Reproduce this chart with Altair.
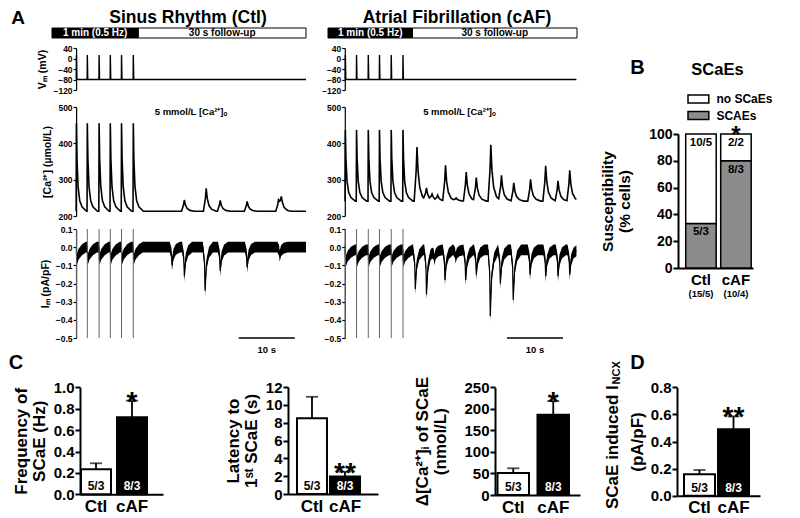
import altair as alt
import numpy as np
import pandas as pd

FONT = "Liberation Sans"
W, H = 784, 510

# ---------------- Panel A data (times in s) ----------------
STIM_T_CTL = [0.05, 2.0, 4.1, 6.1, 8.1, 10.2]
STIM_T_CAF = [0.1, 2.1, 4.2, 6.2, 8.3, 10.4]
T_END_CTL = 41.0
T_END_CAF = 41.4
HEADER_LABELS = ["1 min (0.5 Hz)", "30 s follow-up"]
HEADER_EDGES_CTL = [-4.3, 11.1, 41.0]
HEADER_EDGES_CAF = [-3.0, 12.1, 41.5]

VM_REST = -80.0
VM_PEAK = 13.0

CA_BASE_CTL = 213.0
CA_BASE_CAF = 241.0
CA_STIM_PEAK_CTL = 455.0
CA_STIM_PEAK_CAF = 437.0
CA_SCAE_T_CTL = [19.3, 23.2, 25.7, 30.5, 36.1, 36.6]
CA_SCAE_PEAK_CTL = [244, 276, 243, 240, 245, 246]
CA_SCAE_T_CAF = [12.9, 14.6, 15.6, 16.6, 18.0, 19.9, 21.7, 23.5, 26.1, 28.0, 30.2, 33.2, 35.9, 38.1, 40.2]
CA_SCAE_PEAK_CAF = [390, 276, 258, 256, 339, 250, 321, 306, 396, 312, 291, 301, 338, 297, 326]
CA_NOTE = "5 mmol/L [Ca²⁺]ₒ"
CA_NOTE_AT = [20.5, 486]

IM_BASE_CTL = 0.0
IM_BASE_CAF = -0.015
IM_NOISE = 0.03
IM_STIM_LOW_CTL = -0.10
IM_STIM_LOW_CAF = -0.11
IM_SCAE_T_CTL = [17.1, 19.3, 23.0, 25.7, 30.5, 36.3]
IM_SCAE_LOW_CTL = [-0.13, -0.19, -0.27, -0.16, -0.14, -0.08]
IM_SCAE_T_CAF = [12.6, 14.6, 16.0, 17.9, 19.8, 21.6, 23.5, 26.0, 27.8, 30.1, 33.1, 35.9, 38.1, 40.2]
IM_SCAE_LOW_CAF = [-0.26, -0.29, -0.10, -0.21, -0.09, -0.21, -0.18, -0.41, -0.23, -0.32, -0.18, -0.19, -0.19, -0.18]
IM_TRANSIENT = [0.1, -0.5]
SCALEBAR_T = [29.0, 39.0]
SCALEBAR_LABEL = "10 s"

# waveform shapes: (time offset in s, fraction of peak)
VM_AP_DT = [-0.03, 0.0, 0.08]
VM_AP_F = [0.0, 1.0, 0.0]
CA_STIM_DT = [-0.05, 0.0, 0.1, 0.3, 0.6, 1.0, 1.8]
CA_STIM_F = [0.0, 1.0, 0.6, 0.28, 0.12, 0.05, 0.0]
CA_SCAE_DT = [-0.5, -0.15, 0.0, 0.2, 0.5, 1.0, 1.8]
CA_SCAE_F = [0.0, 0.55, 1.0, 0.55, 0.25, 0.08, 0.0]
IM_STIM_DT = [0.0, 0.05, 0.4, 1.0, 1.7]
IM_STIM_F = [0.0, 1.0, 0.55, 0.2, 0.0]
IM_SCAE_DT = [-0.4, -0.1, 0.0, 0.25, 0.7, 1.4]
IM_SCAE_F = [0.0, 0.35, 1.0, 0.4, 0.12, 0.0]

# ---------------- Panel B data ----------------
B_CATS = ["Ctl", "cAF"]
B_GROUPS = ["no SCaEs", "SCAEs"]
B_SCAE_PCT = [33.3, 80.0]
B_NO_PCT = [66.7, 20.0]
B_SCAE_N = ["5/3", "8/3"]
B_NO_N = ["10/5", "2/2"]
B_TOTAL_N = ["(15/5)", "(10/4)"]
B_SIG = ["", "*"]
B_GRAY = "#8c8c8c"

# ---------------- Panels C / D data ----------------
BAR_N = ["5/3", "8/3"]
FREQ_MEAN = [0.235, 0.72]
FREQ_SEM = [0.055, 0.155]
LAT_MEAN = [8.5, 1.95]
LAT_SEM = [2.4, 0.55]
DCA_MEAN = [51.0, 186.0]
DCA_SEM = [11.0, 32.0]
INCX_MEAN = [0.158, 0.49]
INCX_SEM = [0.032, 0.095]
SIG_C1 = ["", "*"]
SIG_C2 = ["", "**"]
SIG_C3 = ["", "*"]
SIG_D = ["", "**"]

# ---------------- layout (pixel ranges inside the plot area) ----------------
Y_HEADER = [30, 20]
Y_VM = [82, 40]
Y_CA = [208, 99]
Y_IM = [330, 221]
TOP_TEXT_Y = 0.5


def trace(t_end, base, comps):
    pts = {0.0, float(t_end)}
    for times, amps, dt, f in comps:
        for te in times:
            for d in dt:
                tt = round(te + d, 4)
                if 0.0 <= tt <= t_end:
                    pts.add(tt)
    t = np.array(sorted(pts))
    v = np.full(t.shape, float(base))
    for times, amps, dt, f in comps:
        for te, a in zip(times, amps):
            v = v + a * np.interp(t - te, dt, f, left=0.0, right=0.0)
    return pd.DataFrame({"t": t, "v": v})


def lin(domain, rng, zero=False):
    return alt.Scale(domain=domain, range=rng, nice=False, zero=zero)


def a_axis(values, off, title, fmt=None):
    kw = dict(orient="left", offset=off, values=values, tickSize=3, tickWidth=1.2,
              domainWidth=1.2, labelFontSize=8.5, labelPadding=1, titleFontSize=10.5,
              titlePadding=5, title=title)
    if fmt:
        kw["format"] = fmt
    return alt.Axis(**kw)


def txt(s, x, y, size, **kw):
    return alt.Chart(pd.DataFrame({"s": [s]})).mark_text(
        font=FONT, fontWeight="bold", fontSize=size, color="black", **kw
    ).encode(text="s:N", x=alt.value(x), y=alt.value(y))


def panel_a(stim_t, t_end, edges, ca_base, ca_stim_peak, ca_t, ca_peak,
            im_base, im_stim_low, im_t, im_low, xdom, xrng, axis_off, title, title_x, titles):
    xs = lin(xdom, xrng)
    hs = lin([0, 1], Y_HEADER)
    vs = lin([-120, 40], Y_VM)
    cs = lin([200, 500], Y_CA)
    ims = lin([-0.5, 0.1], Y_IM)
    X = lambda f: alt.X(f, scale=xs, axis=None)
    n = len(stim_t)
    out = []

    hdr = pd.DataFrame({"start": edges[:-1], "end": edges[1:], "label": HEADER_LABELS})
    hdr["mid"] = (hdr["start"] + hdr["end"]) / 2
    dark = alt.datum.label == HEADER_LABELS[0]
    out.append(alt.Chart(hdr).mark_rect(stroke="black", strokeWidth=1).encode(
        x=X("start:Q"), x2="end:Q",
        y=alt.YDatum(0, scale=hs, axis=None), y2=alt.Y2Datum(1),
        fill=alt.condition(dark, alt.value("black"), alt.value("white"))))
    out.append(alt.Chart(hdr).mark_text(font=FONT, fontWeight="bold", fontSize=10, baseline="middle").encode(
        x=X("mid:Q"), y=alt.YDatum(0.5, scale=hs, axis=None), text="label:N",
        color=alt.condition(dark, alt.value("white"), alt.value("black"))))
    out.append(txt(title, title_x, TOP_TEXT_Y, 17.5, align="center", baseline="top"))

    vm = trace(t_end, VM_REST, [(stim_t, [VM_PEAK - VM_REST] * n, VM_AP_DT, VM_AP_F)])
    out.append(alt.Chart(vm).mark_line(color="black", strokeWidth=1.4).encode(
        x=X("t:Q"),
        y=alt.Y("v:Q", scale=vs, axis=a_axis([40, 0, -40, -80, -120], axis_off, "Vₘ (mV)" if titles else None))))

    ca = trace(t_end, ca_base, [
        (stim_t, [ca_stim_peak - ca_base] * n, CA_STIM_DT, CA_STIM_F),
        (ca_t, [p - ca_base for p in ca_peak], CA_SCAE_DT, CA_SCAE_F)])
    out.append(alt.Chart(ca).mark_line(color="black", strokeWidth=1.6).encode(
        x=X("t:Q"),
        y=alt.Y("v:Q", scale=cs, axis=a_axis([200, 300, 400, 500], axis_off, "[Ca²⁺] (µmol/L)" if titles else None))))
    note = pd.DataFrame({"t": [CA_NOTE_AT[0]], "v": [CA_NOTE_AT[1]], "s": [CA_NOTE]})
    out.append(alt.Chart(note).mark_text(font=FONT, fontWeight="bold", fontSize=9.5).encode(
        x=X("t:Q"), y=alt.Y("v:Q", scale=cs, axis=None), text="s:N"))

    im = trace(t_end, im_base, [
        (stim_t, [im_stim_low + IM_NOISE - im_base] * n, IM_STIM_DT, IM_STIM_F),
        (im_t, [lo + IM_NOISE - im_base for lo in im_low], IM_SCAE_DT, IM_SCAE_F)])
    im["hi"] = im["v"] + IM_NOISE
    im["lo"] = im["v"] - IM_NOISE
    out.append(alt.Chart(im).mark_area(color="black", opacity=1).encode(
        x=X("t:Q"), y=alt.Y("hi:Q", scale=ims, axis=None), y2="lo:Q"))
    out.append(alt.Chart(im).mark_line(color="black", strokeWidth=1.2).encode(
        x=X("t:Q"),
        y=alt.Y("v:Q", scale=ims, axis=a_axis([0.1, 0.0, -0.1, -0.2, -0.3, -0.4, -0.5], axis_off,
                                              "Iₘ (pA/pF)" if titles else None, ".1f"))))
    out.append(alt.Chart(pd.DataFrame({"t": stim_t})).mark_rule(color="#666666", strokeWidth=1).encode(
        x=X("t:Q"), y=alt.YDatum(IM_TRANSIENT[0], scale=ims, axis=None), y2=alt.Y2Datum(IM_TRANSIENT[1])))
    sb = pd.DataFrame({"t0": [SCALEBAR_T[0]], "t1": [SCALEBAR_T[1]], "v": [-0.5], "s": [SCALEBAR_LABEL]})
    sb["mid"] = (sb["t0"] + sb["t1"]) / 2
    out.append(alt.Chart(sb).mark_rule(color="black", strokeWidth=1.5).encode(
        x=X("t0:Q"), x2="t1:Q", y=alt.Y("v:Q", scale=ims, axis=None)))
    out.append(alt.Chart(sb).mark_text(font=FONT, fontWeight="bold", fontSize=9.5, dy=12).encode(
        x=X("mid:Q"), y=alt.Y("v:Q", scale=ims, axis=None), text="s:N"))
    return out


def panel_b():
    bx = alt.Scale(type="band", domain=B_CATS, range=[670, 745], paddingInner=0.129,
                   paddingOuter=0.136, align=0.81)
    by = lin([0, 100], [260, 126], zero=True)
    rows = []
    for i, c in enumerate(B_CATS):
        rows.append({"cat": c, "grp": "SCAEs", "pct": B_SCAE_PCT[i], "n": B_SCAE_N[i], "top": B_SCAE_PCT[i], "ord": 0})
        rows.append({"cat": c, "grp": "no SCaEs", "pct": B_NO_PCT[i], "n": B_NO_N[i],
                     "top": B_SCAE_PCT[i] + B_NO_PCT[i], "ord": 1})
    dfb = pd.DataFrame(rows)
    X = lambda ax=None: alt.X("cat:N", scale=bx, axis=ax)
    out = []
    out.append(alt.Chart(dfb).mark_bar(stroke="black", strokeWidth=1.5).encode(
        x=X(alt.Axis(orient="bottom", offset=260 - H, ticks=False, domainWidth=2, labelFontSize=15,
                     labelPadding=4, labelAngle=0, title=None)),
        y=alt.Y("pct:Q", stack="zero", scale=by,
                axis=alt.Axis(orient="left", offset=-670, values=[0, 20, 40, 60, 80, 100], tickSize=5,
                              tickWidth=2, domainWidth=2, labelFontSize=14, labelPadding=1,
                              title=["Susceptibility", "(% cells)"], titleFontSize=15.5,
                              titlePadding=16, titleLineHeight=17)),
        color=alt.Color("grp:N", scale=alt.Scale(domain=B_GROUPS, range=["white", B_GRAY]),
                        legend=alt.Legend(orient="none", legendX=684.4, legendY=85, title=None,
                                          symbolType="M-2.6,-1L2.6,-1L2.6,1L-2.6,1Z", symbolSize=64,
                                          symbolStrokeColor="black", symbolStrokeWidth=1.5,
                                          symbolOpacity=1, labelFont=FONT, labelFontSize=12,
                                          labelFontWeight="bold", labelColor="black",
                                          labelOffset=12, rowPadding=2.5, padding=0)),
        order=alt.Order("ord:Q")))
    out.append(alt.Chart(dfb).mark_text(font=FONT, fontWeight="bold", fontSize=11.5, baseline="middle",
                                        dy=9, color="black").encode(
        x=X(), y=alt.Y("top:Q", scale=by, axis=None), text="n:N"))
    dfs = pd.DataFrame({"cat": B_CATS, "sig": B_SIG, "tot": B_TOTAL_N})
    out.append(alt.Chart(dfs).mark_text(font=FONT, fontWeight="bold", fontSize=24, baseline="alphabetic",
                                        dy=8.5, color="black").encode(
        x=X(), y=alt.YDatum(100, scale=by, axis=None), text="sig:N"))
    out.append(alt.Chart(dfs).mark_text(font=FONT, fontWeight="bold", fontSize=9.5, baseline="middle",
                                        color="black").encode(
        x=X(), y=alt.value(286), text="tot:N"))
    out.append(txt("SCaEs", 709.5, 67, 16.5, align="center", baseline="alphabetic"))
    return out


def bar_panel(means, sems, sig, xr, pi, po, al, ydom, yr, yvals, yfmt, yoff, title, tpad):
    df = pd.DataFrame({"cat": B_CATS, "m": means, "u": [m + s for m, s in zip(means, sems)],
                       "n": BAR_N, "sig": sig})
    xs = alt.Scale(type="band", domain=B_CATS, range=xr, paddingInner=pi, paddingOuter=po, align=al)
    ys = lin(ydom, yr, zero=True)
    X = lambda ax=None: alt.X("cat:N", scale=xs, axis=ax)
    ctl = alt.datum.cat == B_CATS[0]
    ykw = dict(orient="left", offset=yoff, values=yvals, format=yfmt, tickSize=5, tickWidth=2,
               domainWidth=2, labelFontSize=15, labelPadding=1, titleFontSize=17,
               titlePadding=tpad, titleLineHeight=18, title=title)
    xaxis = alt.Axis(orient="bottom", offset=yr[0] - H, ticks=False, domainWidth=2, labelFontSize=17,
                     labelPadding=4, labelAngle=0, title=None)
    base = alt.Chart(df)
    return [
        base.mark_rule(color="black", strokeWidth=1.8).encode(
            x=X(), y=alt.Y("m:Q", scale=ys, axis=None), y2="u:Q"),
        base.mark_tick(color="black", thickness=1.8, size=12, orient="horizontal").encode(
            x=X(), y=alt.Y("u:Q", scale=ys, axis=None)),
        base.mark_bar(stroke="black", strokeWidth=2).encode(
            x=X(xaxis), y=alt.Y("m:Q", scale=ys, axis=alt.Axis(**ykw)),
            fill=alt.condition(ctl, alt.value("white"), alt.value("black"))),
        base.mark_text(font=FONT, fontWeight="bold", fontSize=12, baseline="middle", dy=-8).encode(
            x=X(), y=alt.YDatum(0, scale=ys, axis=None), text="n:N",
            color=alt.condition(ctl, alt.value("black"), alt.value("white"))),
        base.mark_text(font=FONT, fontWeight="bold", fontSize=28, baseline="alphabetic", dy=10,
                       color="black").encode(
            x=X(), y=alt.Y("u:Q", scale=ys, axis=None), text="sig:N"),
    ]


layers = []
layers += panel_a(STIM_T_CTL, T_END_CTL, HEADER_EDGES_CTL, CA_BASE_CTL, CA_STIM_PEAK_CTL,
                  CA_SCAE_T_CTL, CA_SCAE_PEAK_CTL, IM_BASE_CTL, IM_STIM_LOW_CTL,
                  IM_SCAE_T_CTL, IM_SCAE_LOW_CTL, [-4.3, 41.0], [44, 298], -68.1,
                  "Sinus Rhythm (Ctl)", 180, True)
layers += panel_a(STIM_T_CAF, T_END_CAF, HEADER_EDGES_CAF, CA_BASE_CAF, CA_STIM_PEAK_CAF,
                  CA_SCAE_T_CAF, CA_SCAE_PEAK_CAF, IM_BASE_CAF, IM_STIM_LOW_CAF,
                  IM_SCAE_T_CAF, IM_SCAE_LOW_CAF, [-3.0, 41.5], [320, 569], -336.8,
                  "Atrial Fibrillation (cAF)", 449, False)
layers += panel_b()
layers += bar_panel(FREQ_MEAN, FREQ_SEM, SIG_C1, [72, 155], 0.1667, 0.236, 0.059, [0, 1.0],
                    [486.3, 379.3], [0, 0.2, 0.4, 0.6, 0.8, 1.0], ".1f", -72,
                    ["Frequency of", "SCaE (Hz)"], 5)
layers += bar_panel(LAT_MEAN, LAT_SEM, SIG_C2, [280, 370], 0.0909, 0.409, 0.333, [0, 12],
                    [486, 379], [0, 2, 4, 6, 8, 10, 12], "d", -280,
                    ["Latency to", "1ˢᵗ SCaE (s)"], 5)
layers += bar_panel(DCA_MEAN, DCA_SEM, SIG_C3, [487, 572], 0.2125, 0.169, 0.185, [0, 250],
                    [487, 379.3], [0, 50, 100, 150, 200, 250], "d", -487,
                    ["Δ[Ca²⁺]ᵢ of SCaE", "(nmol/L)"], 14)
layers += bar_panel(INCX_MEAN, INCX_SEM, SIG_D, [669, 752], 0.088, 0.265, 0.389, [0, 0.8],
                    [487.7, 379.3], [0, 0.2, 0.4, 0.6, 0.8], ".1f", -669, "(pA/pF)", 4)
layers.append(txt("SCaE induced I", 605, 501, 17, angle=270, align="left", baseline="middle"))
layers.append(txt("NCX", 609, 376.5, 11, angle=270, align="left", baseline="middle"))
layers.append(txt("A", 10, TOP_TEXT_Y, 19, align="center", baseline="top"))
for letter, lx, ly in [("B", 629.5, 65.5), ("C", 8, 360.5), ("D", 629.5, 360.5)]:
    layers.append(txt(letter, lx, ly, 20, align="center", baseline="alphabetic"))

chart = alt.layer(*layers).resolve_scale(
    x="independent", y="independent"
).resolve_axis(
    x="independent", y="independent"
).properties(
    width=W, height=H, padding=0, autosize=alt.AutoSizeParams(type="none")
).configure_axis(
    grid=False, labelFont=FONT, titleFont=FONT, labelFontWeight="bold", titleFontWeight="bold",
    labelColor="black", titleColor="black", domainColor="black", tickColor="black",
    labelOverlap=False, labelFlush=False
).configure_view(stroke=None)

chart.save("out.html", embed_options={"renderer": "svg", "actions": False})
